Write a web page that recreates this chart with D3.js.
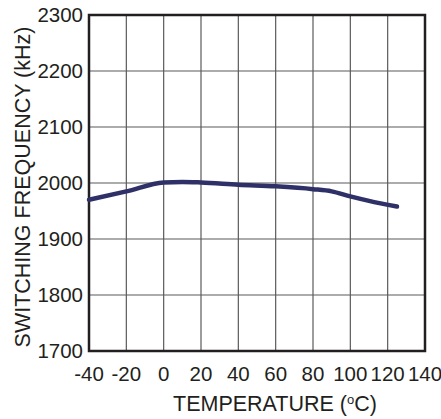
<!DOCTYPE html>
<html><head><meta charset="utf-8">
<script src="https://cdn.jsdelivr.net/npm/d3@7"></script>
<style>body{margin:0;background:#fff}text{font-family:"Liberation Sans",Arial,sans-serif;fill:#231f20}</style>
</head><body>
<svg id="c" width="441" height="419"></svg>
<script>
const temps = [-40, -20, 0, 10, 20, 40, 60, 80, 90, 100, 110, 125];
const freq  = [1970, 1985, 2001, 2002, 2001, 1997, 1994, 1989, 1985, 1976, 1968, 1958];
const xTicks = [-40, -20, 0, 20, 40, 60, 80, 100, 120, 140];
const yTicks = [1700, 1800, 1900, 2000, 2100, 2200, 2300];

const L = 89, R = 425, T = 15, B = 351;
const svg = d3.select("#c");
const x = d3.scaleLinear().domain([-40, 140]).range([L, R]);
const y = d3.scaleLinear().domain([1700, 2300]).range([B, T]);

const g = svg.append("g");
g.selectAll(".vg").data(xTicks).enter().append("line")
  .attr("x1", d => x(d)).attr("x2", d => x(d)).attr("y1", T).attr("y2", B)
  .attr("stroke", "#5a5a5a").attr("stroke-width", 1.2);
g.selectAll(".hg").data(yTicks).enter().append("line")
  .attr("y1", d => y(d)).attr("y2", d => y(d)).attr("x1", L).attr("x2", R)
  .attr("stroke", "#5a5a5a").attr("stroke-width", 1.2);

svg.append("rect").attr("x", L).attr("y", T).attr("width", R - L).attr("height", B - T)
  .attr("fill", "none").attr("stroke", "#231f20").attr("stroke-width", 2.5);

svg.append("path").datum(temps.map((t, i) => [t, freq[i]]))
  .attr("d", d3.line().x(d => x(d[0])).y(d => y(d[1])).curve(d3.curveMonotoneX))
  .attr("fill", "none").attr("stroke", "#2f3068").attr("stroke-width", 4.5)
  .attr("stroke-linecap", "round");

svg.selectAll(".xt").data(xTicks).enter().append("text")
  .attr("x", d => x(d)).attr("y", 381).attr("text-anchor", "middle")
  .attr("font-size", 20.5).text(d => d);
svg.selectAll(".yt").data(yTicks).enter().append("text")
  .attr("x", 83).attr("y", d => y(d) + 7).attr("text-anchor", "end")
  .attr("font-size", 20.5).text(d => d);

const xt = svg.append("text").attr("x", 275).attr("y", 411).attr("text-anchor", "middle")
  .attr("font-size", 21.5);
xt.append("tspan").text("TEMPERATURE (");
xt.append("tspan").attr("font-size", 13).attr("dy", -7).text("o");
xt.append("tspan").attr("dy", 7).text("C)");

svg.append("text").attr("transform", "translate(30,187) rotate(-90)")
  .attr("text-anchor", "middle").attr("font-size", 21.5)
  .text("SWITCHING FREQUENCY (kHz)");
</script>
</body></html>
